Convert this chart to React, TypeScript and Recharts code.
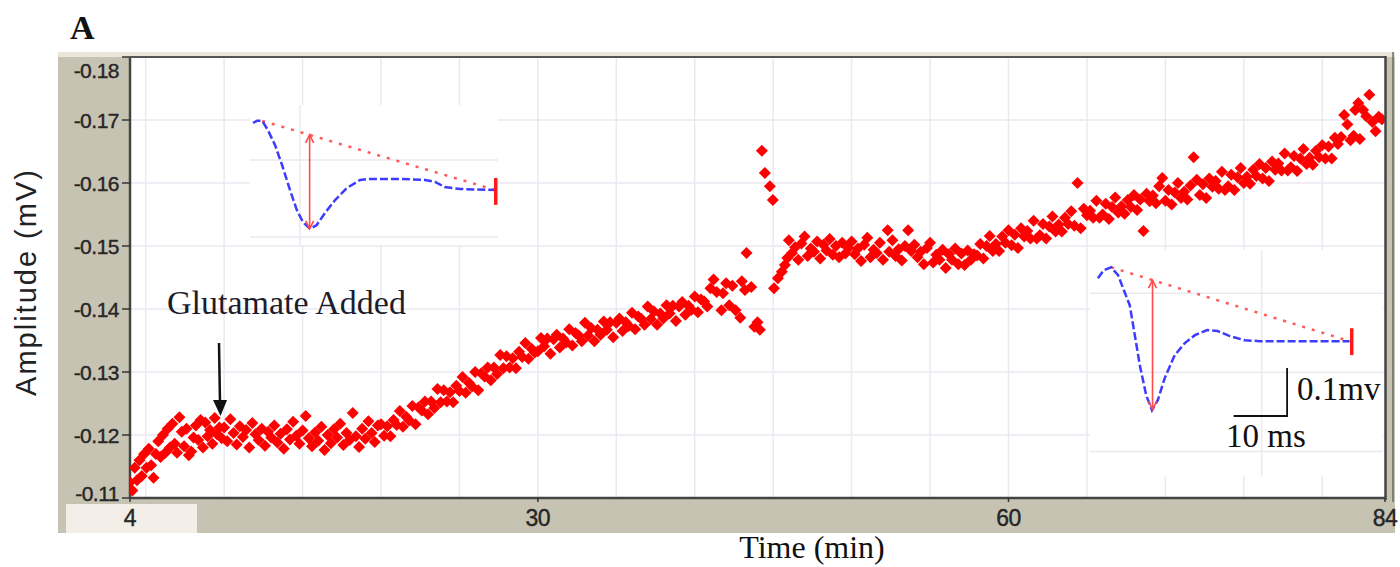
import React from 'react';
import { ScatterChart, Scatter, LineChart, Line, XAxis, YAxis, CartesianGrid } from 'recharts';

// amplitude (mV) over time (min)
const preGlutamate: [number, number][] = [
  [4.0, -0.1125], [4.15, -0.1112], [4.3, -0.1148], [4.45, -0.1128], [4.6, -0.116], [4.75, -0.1135],
  [4.9, -0.117], [5.05, -0.1148], [5.2, -0.1178], [5.35, -0.1152], [5.5, -0.1132], [5.65, -0.117],
  [5.8, -0.119], [5.95, -0.1165], [6.1, -0.12], [6.25, -0.1172], [6.4, -0.121], [6.55, -0.118],
  [6.7, -0.1218], [6.85, -0.1186], [7.0, -0.1172], [7.15, -0.1228], [7.3, -0.1205], [7.45, -0.1182],
  [7.6, -0.121], [7.75, -0.1168], [7.9, -0.1174], [8.05, -0.1196], [8.2, -0.1215], [8.35, -0.1192],
  [8.5, -0.1224], [8.65, -0.118], [8.8, -0.122], [8.95, -0.1198], [9.1, -0.1208], [9.25, -0.1186],
  [9.4, -0.1227], [9.55, -0.1201], [9.7, -0.1212], [9.85, -0.1195],
];

const earlyResponse: [number, number][] = [
  [10.0, -0.1212], [10.2, -0.119], [10.4, -0.1225], [10.6, -0.1203], [10.8, -0.1185], [11.0, -0.1214],
  [11.2, -0.1197], [11.4, -0.1208], [11.6, -0.118], [11.8, -0.1219], [12.0, -0.1201], [12.2, -0.1192],
  [12.4, -0.121], [12.6, -0.1183], [12.8, -0.1205], [13.0, -0.1196], [13.2, -0.1215], [13.4, -0.1188],
  [13.6, -0.1202], [13.8, -0.1178], [14.0, -0.1209], [14.2, -0.1193], [14.4, -0.1221], [14.6, -0.1199],
  [14.8, -0.1186], [15.0, -0.1207], [15.2, -0.123], [15.4, -0.1195], [15.6, -0.1182], [15.8, -0.1204],
  [16.0, -0.1191], [16.2, -0.1213], [16.4, -0.1176], [16.6, -0.12], [16.8, -0.1187], [17.0, -0.1209],
  [17.2, -0.1196], [17.4, -0.1218], [17.6, -0.1184], [17.8, -0.1203], [18.0, -0.1192], [18.2, -0.1235],
  [18.4, -0.1198], [18.6, -0.1181], [18.8, -0.121], [19.0, -0.1194], [19.2, -0.1222], [19.4, -0.1203],
  [19.6, -0.1189], [19.8, -0.1215],
];

const slowRise: [number, number][] = [
  [20.0, -0.1217], [20.2, -0.1199], [20.4, -0.1214], [20.6, -0.1198], [20.8, -0.1224], [21.0, -0.1216],
  [21.2, -0.1238], [21.4, -0.1213], [21.6, -0.1229], [21.8, -0.1223], [22.0, -0.1246], [22.2, -0.1217],
  [22.4, -0.1244], [22.6, -0.1239], [22.8, -0.1253], [23.0, -0.1233], [23.2, -0.1253], [23.4, -0.1243],
  [23.6, -0.1273], [23.8, -0.1252], [24.0, -0.1271], [24.2, -0.1253], [24.4, -0.1268], [24.6, -0.1252],
  [24.8, -0.1278], [25.0, -0.127], [25.2, -0.1292], [25.4, -0.1267], [25.6, -0.1283], [25.8, -0.1277],
  [26.0, -0.13], [26.2, -0.1271], [26.4, -0.1298], [26.6, -0.1293], [26.8, -0.1307], [27.0, -0.1287],
  [27.2, -0.1307], [27.4, -0.1297], [27.6, -0.1327], [27.8, -0.1306], [28.0, -0.1325], [28.2, -0.1307],
  [28.4, -0.1322], [28.6, -0.1306], [28.8, -0.1332], [29.0, -0.1324], [29.2, -0.1346], [29.4, -0.1321],
  [29.6, -0.1337], [29.8, -0.1331],
];

const lateRise: [number, number][] = [
  [30.0, -0.1333], [30.2, -0.1354], [30.4, -0.1341], [30.6, -0.1353], [30.8, -0.1329], [31.0, -0.1352],
  [31.2, -0.1359], [31.4, -0.1339], [31.6, -0.1353], [31.8, -0.1347], [32.0, -0.1368], [32.2, -0.1342],
  [32.4, -0.1362], [32.6, -0.1358], [32.8, -0.1349], [33.0, -0.1378], [33.2, -0.1358], [33.4, -0.137],
  [33.6, -0.1349], [33.8, -0.1367], [34.0, -0.1359], [34.2, -0.138], [34.4, -0.1367], [34.6, -0.1379],
  [34.8, -0.1355], [35.0, -0.1378], [35.2, -0.1385], [35.4, -0.1365], [35.6, -0.1379], [35.8, -0.1373],
  [36.0, -0.1394], [36.2, -0.1368], [36.4, -0.1388], [36.6, -0.1384], [36.8, -0.1375], [37.0, -0.1404],
  [37.2, -0.1384], [37.4, -0.1396], [37.6, -0.1375], [37.8, -0.1393], [38.0, -0.1385], [38.2, -0.1406],
  [38.4, -0.1393], [38.6, -0.1405], [38.8, -0.1381], [39.0, -0.1404], [39.2, -0.1411], [39.4, -0.1391],
  [39.6, -0.1405], [39.8, -0.1399], [40.0, -0.142], [40.2, -0.1395], [40.4, -0.1415], [40.6, -0.1412],
  [40.8, -0.1404], [41.0, -0.1433], [41.2, -0.1447], [41.4, -0.1427], [41.7, -0.1398], [41.8, -0.1425],
  [42.0, -0.1441], [42.2, -0.1406], [42.4, -0.1437], [42.6, -0.1398], [42.9, -0.1386], [43.0, -0.1444],
  [43.2, -0.143], [43.3, -0.1489], [43.6, -0.1435], [43.8, -0.1372], [44.0, -0.1379], [44.15, -0.1367],
];

const artifact: [number, number][] = [
  [44.28, -0.1651], [44.47, -0.1616], [44.79, -0.1595], [44.98, -0.1573],
  [45.05, -0.1433], [45.3, -0.1449], [45.55, -0.1459], [45.75, -0.147], [45.9, -0.1481],
];

const plateau: [number, number][] = [
  [46.0, -0.1509], [46.2, -0.1489], [46.4, -0.1498], [46.6, -0.1478], [46.8, -0.1504], [47.0, -0.1515],
  [47.2, -0.1484], [47.4, -0.1496], [47.6, -0.1491], [47.8, -0.1507], [48.0, -0.148], [48.2, -0.1502],
  [48.4, -0.1493], [48.6, -0.1511], [48.8, -0.1486], [49.0, -0.15], [49.2, -0.1482], [49.4, -0.1505],
  [49.6, -0.1488], [49.8, -0.1497], [50.0, -0.1507], [50.2, -0.1487], [50.4, -0.1496], [50.6, -0.1476],
  [50.8, -0.1502], [51.0, -0.1513], [51.2, -0.1482], [51.4, -0.1494], [51.6, -0.1489], [51.8, -0.1505],
  [52.0, -0.1478], [52.3, -0.1525], [52.4, -0.1491], [52.6, -0.1509], [52.8, -0.1484], [53.0, -0.1495],
  [53.2, -0.1477], [53.6, -0.1525], [53.4, -0.15], [53.8, -0.1492], [54.0, -0.1502], [54.2, -0.1482],
  [54.4, -0.1491], [54.6, -0.1471], [54.8, -0.1497], [55.0, -0.1505], [55.2, -0.1474], [55.4, -0.1486],
  [55.6, -0.1478], [55.8, -0.1494], [56.0, -0.1465], [56.2, -0.1487], [56.4, -0.1478], [56.6, -0.1496],
  [56.8, -0.1471], [57.0, -0.1488], [57.2, -0.147], [57.4, -0.1493], [57.6, -0.1478], [57.8, -0.1487],
];

const finalRise: [number, number][] = [
  [58.0, -0.1485], [58.2, -0.1503], [58.4, -0.148], [58.6, -0.15], [58.8, -0.1516], [59.0, -0.1492],
  [59.2, -0.1503], [59.4, -0.1492], [59.6, -0.1515], [59.8, -0.1505], [60.0, -0.1525], [60.2, -0.1501],
  [60.4, -0.1518], [60.6, -0.1497], [60.8, -0.1528], [61.0, -0.1515], [61.2, -0.1524], [61.4, -0.1512],
  [61.6, -0.154], [61.8, -0.1512], [62.0, -0.1517], [62.2, -0.1535], [62.4, -0.1512], [62.6, -0.1531],
  [62.8, -0.1547], [63.0, -0.1523], [63.2, -0.1534], [63.4, -0.1523], [63.6, -0.1545], [63.8, -0.1535],
  [64.0, -0.1555], [64.2, -0.1532], [64.4, -0.16], [64.6, -0.1528], [64.8, -0.1559], [65.0, -0.1549],
  [65.2, -0.1556], [65.4, -0.1545], [65.6, -0.1572], [65.8, -0.1545], [66.0, -0.155], [66.2, -0.1567],
  [66.4, -0.1543], [66.6, -0.1562], [66.8, -0.1577], [67.0, -0.1553], [67.2, -0.1563], [67.4, -0.1551],
  [67.6, -0.1573], [67.8, -0.1562], [68.0, -0.1581], [68.2, -0.1557], [68.4, -0.1574], [68.6, -0.1524],
  [68.8, -0.1583], [69.0, -0.1571], [69.2, -0.158], [69.4, -0.1568], [69.6, -0.1595], [69.8, -0.1608],
  [70.0, -0.1572], [70.2, -0.1589], [70.4, -0.1566], [70.6, -0.1585], [70.8, -0.16], [71.0, -0.1576],
  [71.2, -0.1586], [71.4, -0.1574], [71.6, -0.1596], [71.8, -0.1641], [72.0, -0.1605], [72.2, -0.1581],
  [72.4, -0.1598], [72.6, -0.1576], [72.8, -0.1607], [73.0, -0.1594], [73.2, -0.1603], [73.4, -0.1591],
  [73.6, -0.1618], [73.8, -0.1589], [74.0, -0.1595], [74.2, -0.1613], [74.4, -0.1589], [74.6, -0.1609],
  [74.8, -0.1624], [75.0, -0.16], [75.2, -0.161], [75.4, -0.1599], [75.6, -0.1621], [75.8, -0.1611],
  [76.0, -0.163], [76.2, -0.1607], [76.4, -0.1624], [76.6, -0.1603], [76.8, -0.1634], [77.0, -0.1621],
  [77.2, -0.1631], [77.4, -0.162], [77.6, -0.1647], [77.8, -0.162], [78.0, -0.1625], [78.2, -0.1643],
  [78.4, -0.1619], [78.6, -0.1639], [78.8, -0.1654], [79.0, -0.163], [79.2, -0.164], [79.4, -0.1629],
  [79.6, -0.1651], [79.8, -0.1641], [80.0, -0.166], [80.2, -0.1639], [80.4, -0.1658], [80.6, -0.1639],
  [80.8, -0.1672], [81.0, -0.1662], [81.2, -0.1673], [81.4, -0.1708], [81.6, -0.1693], [81.8, -0.1668],
  [82.0, -0.1675], [82.1, -0.1716], [82.3, -0.1727], [82.4, -0.167], [82.6, -0.1716], [82.8, -0.1706],
  [83.0, -0.174], [83.2, -0.1697], [83.4, -0.1682], [83.6, -0.1705], [83.8, -0.1701],
];

const timeTicks = [4, 30, 60, 84];
const timeGrid = [5, 10, 15, 20, 25, 30, 35, 40, 45, 50, 55, 60, 65, 70, 75, 80];
const ampTicks = [-0.18, -0.17, -0.16, -0.15, -0.14, -0.13, -0.12, -0.11];

// inset traces: time (ms) vs amplitude (mV) relative to end of trace
const beforeTrace: [number, number][] = [
  [0, 0.1396], [0.8, 0.144], [1.8, 0.144], [2.9, 0.125], [4.3, 0.094], [5.7, 0.052], [7.25, 0],
  [8.6, -0.042], [9.8, -0.067], [11.2, -0.081], [12.5, -0.073], [14.1, -0.048], [16.1, -0.021],
  [18.4, 0.004], [21.0, 0.021], [23.0, 0.023], [28.8, 0.023], [33.7, 0.021], [35.7, 0.017],
  [37.6, 0.006], [40.6, 0.002], [47.5, 0],
];
const afterTrace: [number, number][] = [
  [0, 0.131], [1.1, 0.148], [2.5, 0.154], [3.8, 0.1375], [4.9, 0.106], [6.0, 0.075], [6.8, 0.023],
  [7.9, -0.05], [9.1, -0.1125], [10.2, -0.144], [11.3, -0.123], [12.6, -0.077], [14.5, -0.029],
  [16.4, -0.004], [18.3, 0.0125], [20.6, 0.023], [22.6, 0.021], [24.9, 0.0104], [27.7, 0.002],
  [30.6, 0], [38.1, 0], [47.5, 0],
];
const beforeBaseline: [number, number][] = [[1.8, 0.144], [47.5, 0]];
const afterBaseline: [number, number][] = [[2.5, 0.154], [47.5, 0]];
const beforePeak: [number, number][] = [[11.1, -0.081], [11.1, 0.1147]];
const afterPeak: [number, number][] = [[10.3, -0.142], [10.3, 0.127]];
const beforeEnd: [number, number][] = [[47.6, 0.025], [47.6, -0.031]];
const afterEnd: [number, number][] = [[47.9, 0.027], [47.9, -0.029]];
const scaleBar: [number, number][] = [[25.6, -0.156], [35.7, -0.156], [35.7, -0.056]];

const toPts = (arr: [number, number][]) => arr.map(([t, v]) => ({ t, v }));

const allPoints = toPts([
  ...preGlutamate, ...earlyResponse, ...slowRise, ...lateRise, ...artifact, ...plateau, ...finalRise,
]);

const sans = "'Liberation Sans', Arial, sans-serif";
const serif = "'Liberation Serif', 'Times New Roman', serif";

const Diamond = (props: any) => {
  const { cx, cy } = props;
  if (cx == null || cy == null) return null;
  const r = 6;
  return <polygon points={`${cx},${cy - r} ${cx + r},${cy} ${cx},${cy + r} ${cx - r},${cy}`} fill="#ff0000" />;
};

const AmpTick = (props: any) => {
  const { x, y, payload } = props;
  let dy = 0;
  if (payload.value === -0.18) dy = 13;
  if (payload.value === -0.11) dy = -5;
  return (
    <text x={x} y={y + dy} dy="0.36em" textAnchor="end" fill="#262626" stroke="#262626" strokeWidth={0.4}
      fontFamily={sans} fontSize={21} letterSpacing={-0.5}>
      {payload.value.toFixed(2)}
    </text>
  );
};

const TimeTick = (props: any) => {
  const { x, y, payload } = props;
  return (
    <text x={x} y={y} dy="0.8em" textAnchor="middle" fill="#262626" stroke="#262626" strokeWidth={0.4}
      fontFamily={sans} fontSize={23} letterSpacing={-0.5}>
      {payload.value}
    </text>
  );
};

const ArrowDot = (props: any) => {
  const { cx, cy, index } = props;
  if (cx == null || cy == null) return null;
  const d = index === 0
    ? `M${cx - 4},${cy - 8} L${cx},${cy} L${cx + 4},${cy - 8}`
    : `M${cx - 4},${cy + 8} L${cx},${cy} L${cx + 4},${cy + 8}`;
  return <path key={index} d={d} stroke="#ff4a4a" strokeWidth={1.6} fill="none" />;
};

interface InsetProps {
  left: number; top: number; width: number; height: number;
  xDomain: [number, number]; yDomain: [number, number];
  trace: [number, number][]; baseline: [number, number][];
  peak: [number, number][]; endMark: [number, number][];
  gridH: number[]; gridV: number[];
  bar?: [number, number][];
}

const Inset: React.FC<InsetProps> = (p) => (
  <div style={{ position: 'absolute', left: p.left, top: p.top }}>
    <LineChart width={p.width} height={p.height} margin={{ top: 0, right: 0, bottom: 0, left: 0 }}>
      <CartesianGrid fill="#ffffff" stroke="#ebe9f0" strokeWidth={1.5}
        horizontalValues={p.gridH} verticalValues={p.gridV} />
      <XAxis type="number" dataKey="t" domain={p.xDomain} allowDataOverflow hide />
      <YAxis type="number" dataKey="v" domain={p.yDomain} allowDataOverflow hide />
      <Line data={toPts(p.baseline)} dataKey="v" stroke="#ff5a5a" strokeWidth={2.5}
        strokeDasharray="3 7" dot={false} isAnimationActive={false} />
      <Line data={toPts(p.trace)} dataKey="v" stroke="#3c3cff" strokeWidth={2.5}
        strokeDasharray="8 3" dot={false} isAnimationActive={false} type="linear" />
      <Line data={toPts(p.peak)} dataKey="v" stroke="#ff4a4a" strokeWidth={1.6}
        dot={<ArrowDot />} isAnimationActive={false} />
      <Line data={toPts(p.endMark)} dataKey="v" stroke="#ff1a1a" strokeWidth={3.5}
        dot={false} isAnimationActive={false} />
      {p.bar && (
        <Line data={toPts(p.bar)} dataKey="v" stroke="#111" strokeWidth={1.8}
          dot={false} isAnimationActive={false} />
      )}
    </LineChart>
  </div>
);

export default function App() {
  return (
    <div style={{ position: 'absolute', left: 0, top: 0, width: 1400, height: 567, background: '#fff' }}>
      <div style={{ position: 'absolute', left: 58, top: 52, width: 1337, height: 481, background: '#c7c3b3' }} />
      <div style={{ position: 'absolute', left: 58, top: 52, width: 1337, height: 5, background: '#ebe6d8' }} />
      <div style={{ position: 'absolute', left: 66, top: 504, width: 131, height: 29, background: '#f4eee8' }} />

      <div style={{ position: 'absolute', left: 0, top: 0 }}>
        <ScatterChart width={1400} height={567} margin={{ top: 57, right: 15, bottom: 39, left: 60 }}>
          <CartesianGrid fill="#ffffff" stroke="#ebe9f0" strokeWidth={1.5}
            verticalValues={timeGrid} horizontalValues={ampTicks} />
          <XAxis type="number" dataKey="t" domain={[4, 84]} ticks={timeTicks} allowDataOverflow
            height={30} axisLine={{ stroke: '#444', strokeWidth: 2.5 }}
            tickLine={{ stroke: '#333', strokeWidth: 1.5 }} tickSize={4} tickMargin={6}
            tick={<TimeTick />} />
          <YAxis type="number" dataKey="v" domain={[-0.18, -0.11]} ticks={ampTicks} reversed allowDataOverflow
            width={70} axisLine={{ stroke: '#444', strokeWidth: 2.5 }}
            tickLine={{ stroke: '#333', strokeWidth: 1.5 }} tickSize={8} tickMargin={3}
            tick={<AmpTick />} />
          <Scatter data={allPoints} shape={<Diamond />} isAnimationActive={false} />
        </ScatterChart>
      </div>

      <Inset left={250} top={105} width={248} height={140}
        xDomain={[-0.59, 48.04]} yDomain={[-0.1146, 0.177]}
        trace={beforeTrace} baseline={beforeBaseline} peak={beforePeak} endMark={beforeEnd}
        gridH={[0.0625, -0.098]} gridV={[9.2]} />
      <Inset left={1090} top={250} width={293} height={226}
        xDomain={[-1.5, 53.8]} yDomain={[-0.281, 0.19]}
        trace={afterTrace} baseline={afterBaseline} peak={afterPeak} endMark={afterEnd}
        gridH={[0.1, -0.065, -0.23]} gridV={[30.9]} bar={scaleBar} />

      <svg width={1400} height={567} style={{ position: 'absolute', left: 0, top: 0, pointerEvents: 'none' }}>
        <line x1={129} y1={57} x2={1386} y2={57} stroke="#555" strokeWidth={2} />
        <line x1={1385.5} y1={56} x2={1385.5} y2={500} stroke="#444" strokeWidth={2.5} />
        <line x1={1393} y1={52} x2={1393} y2={502} stroke="#6a6a64" strokeWidth={1.5} />

        <text x={70} y={39} fontFamily={serif} fontWeight="bold" fontSize={34} fill="#111">A</text>
        <text transform="translate(36,282) rotate(-90)" textAnchor="middle"
          fontFamily={sans} fontSize={29} letterSpacing={2} fill="#222">
          Amplitude (mV)
        </text>
        <text x={812} y={558} textAnchor="middle" fontFamily={serif} fontSize={32} fill="#111">Time (min)</text>

        <text x={167} y={314} fontFamily={serif} fontSize={34} fill="#1c1c2c">Glutamate Added</text>
        <line x1={219} y1={343} x2={220} y2={403} stroke="#111" strokeWidth={2.5} />
        <polygon points="213,400 227,400 220.5,416" fill="#111" />

        <text x={1297} y={400} fontFamily={serif} fontSize={33} fill="#111">0.1mv</text>
        <text x={1226} y={447} fontFamily={serif} fontSize={33} fill="#111">10 ms</text>
      </svg>
    </div>
  );
}
